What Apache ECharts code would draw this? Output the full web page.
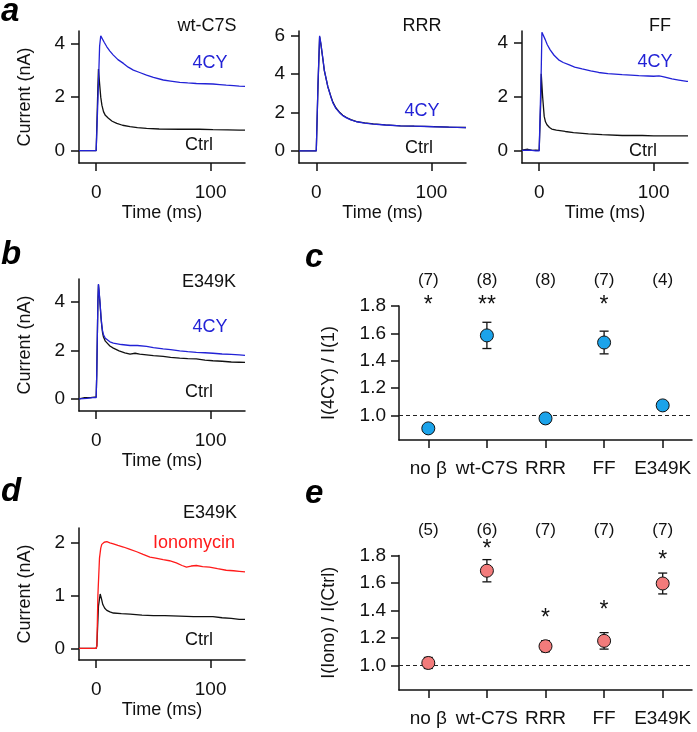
<!DOCTYPE html>
<html>
<head>
<meta charset="utf-8">
<script src="https://cdn.jsdelivr.net/npm/echarts@6/dist/echarts.min.js"></script>
<style>html,body{margin:0;padding:0;background:#fff}#c{width:697px;height:732px}</style>
</head>
<body>
<div id="c"></div>
<script>
// ---------- trace data: [time (ms), current (nA)] ----------
const a1Ctrl = [[-15,0],[0,0],[0.6,0.05],[1.5,2.4],[2,3.05],[3,2.5],[4,2.0],[5,1.7],[6.4,1.46],[8,1.32],[10.7,1.21],[14,1.1],[18,1.02],[23,0.95],[29.6,0.90],[36,0.86],[44,0.83],[55,0.81],[73,0.80],[90,0.80],[102,0.79],[115,0.78],[125,0.77],[130,0.77]];
const a1CY = [[-15,0],[-5,0],[0,0],[0.6,0.05],[2,2.5],[3,3.9],[4,4.29],[5,4.25],[7,4.05],[9.3,3.88],[12,3.72],[15,3.57],[19,3.40],[23.8,3.26],[28,3.12],[32.5,3.01],[38,2.92],[44,2.82],[50,2.74],[58.6,2.64],[65,2.60],[73,2.55],[80,2.53],[87.5,2.51],[95,2.50],[102,2.49],[108,2.47],[113.6,2.45],[120,2.43],[125,2.41],[130,2.40]];
const a2Ctrl = [[-15,0],[0,0],[0.5,0.05],[1.5,3.4],[2.9,5.95],[4,5.55],[5.8,4.75],[7,4.18],[8.7,3.72],[10,3.36],[11.6,3.05],[13,2.78],[14.5,2.53],[17,2.25],[20.4,2.0],[23,1.86],[26.2,1.74],[30,1.63],[35,1.53],[42,1.46],[49.5,1.41],[60,1.36],[73,1.31],[85,1.29],[102,1.27],[115,1.24],[130,1.22]];
const a2CY = [[-15,0],[0,0],[0.5,0.05],[1.5,3.5],[2.9,6.0],[4,5.6],[5.8,4.78],[7,4.2],[8.7,3.73],[10,3.35],[11.6,3.03],[13,2.75],[14.5,2.5],[17,2.22],[20.4,1.98],[23,1.84],[26.2,1.72],[30,1.62],[35,1.52],[42,1.45],[49.5,1.40],[60,1.35],[73,1.31],[85,1.29],[102,1.26],[115,1.24],[130,1.21]];
const a3Ctrl = [[-15,0.03],[-10,0.06],[-6,0.02],[-3,0.03],[0,0.02],[0.9,0.05],[1.5,2.0],[1.8,2.86],[3,2.02],[4.4,1.28],[5.5,1.08],[6.8,0.97],[9,0.87],[11,0.81],[15,0.77],[22.8,0.72],[30,0.68],[43,0.63],[55,0.60],[72.5,0.57],[90,0.57],[100,0.56],[115,0.56],[130,0.56]];
const a3CY = [[-15,0.02],[-8,0.03],[-3,0],[0,0],[0.9,0.05],[1.8,3.0],[2.4,4.4],[3.5,4.3],[5.3,4.13],[7,3.95],[9.6,3.75],[13,3.55],[17,3.38],[21,3.28],[25.8,3.20],[31,3.11],[37.5,3.04],[45,2.97],[52,2.91],[60,2.87],[72.5,2.83],[80,2.81],[87,2.79],[95,2.78],[100,2.77],[104.7,2.785],[108,2.76],[116,2.67],[122,2.63],[129,2.58],[130,2.58]];
const bCtrl = [[-15,0],[-10,0.05],[-5,0.05],[0,0.08],[0.5,1.0],[1.5,4.0],[2,4.7],[2.8,4.25],[3.5,3.85],[4.2,3.35],[4.9,3.0],[5.6,2.72],[6.4,2.55],[8,2.38],[9.3,2.30],[12,2.18],[15,2.09],[20,1.98],[25,1.90],[29.6,1.84],[34,1.88],[38,1.84],[44,1.81],[50,1.78],[58.5,1.75],[65,1.71],[73,1.68],[80,1.66],[87.5,1.65],[95,1.60],[102,1.57],[110,1.55],[118,1.52],[125,1.51],[130,1.50]];
const bCY = [[-15,0],[-8,0.02],[-3,0.05],[0,0.05],[0.5,1.0],[1.5,4.0],[2,4.73],[2.8,4.3],[3.5,3.88],[4.2,3.4],[4.9,3.05],[5.6,2.8],[6.4,2.64],[8,2.5],[9.3,2.43],[12,2.35],[15,2.30],[22,2.24],[29.6,2.20],[36,2.20],[44,2.16],[50,2.11],[58.5,2.06],[65,2.03],[73,1.98],[80,1.95],[87.5,1.92],[95,1.90],[102,1.88],[110,1.85],[118,1.83],[125,1.81],[130,1.79]];
const dCtrl = [[-15,0],[0,0],[0.6,0.05],[2,0.8],[3.5,1.03],[4.5,0.95],[5.8,0.83],[7.5,0.76],[9.3,0.72],[12,0.69],[15,0.67],[22,0.66],[29.6,0.65],[40,0.63],[50,0.62],[60,0.62],[73,0.61],[85,0.60],[95,0.60],[102,0.60],[110,0.58],[118,0.57],[125,0.55],[130,0.55]];
const dIono = [[-15,0],[-5,0],[0,0],[0.6,0.05],[1.5,1.0],[2.9,1.71],[4,1.9],[4.9,1.97],[7,2.01],[9.3,2.02],[12,2.0],[15,1.98],[19,1.95],[23.8,1.92],[29,1.88],[35.4,1.83],[41,1.78],[47,1.73],[52,1.71],[58.5,1.68],[64,1.66],[70,1.62],[75,1.57],[78.9,1.54],[83,1.56],[87.5,1.57],[93,1.55],[99,1.54],[106,1.51],[113.6,1.48],[120,1.47],[125,1.46],[130,1.45]];
const timeTicks = [0, 100];

// ---------- summary data ----------
const categories = ['no \u03b2', 'wt-C7S', 'RRR', 'FF', 'E349K'];
const cMean = [0.905, 1.585, 0.978, 1.533, 1.073];
const cErr = [0.015, 0.096, 0.035, 0.083, 0.015];
const cN = ['(7)', '(8)', '(8)', '(7)', '(4)'];
const cStars = ['*', '**', '', '*', ''];
const cStarY = [1.84, 1.84, null, 1.84, null];
const eMean = [1.017, 1.689, 1.139, 1.178, 1.596];
const eErr = [0.04, 0.081, 0.04, 0.06, 0.076];
const eN = ['(5)', '(6)', '(7)', '(7)', '(7)'];
const eStars = ['', '*', '*', '*', '*'];
const eStarY = [null, 1.878, 1.378, 1.432, 1.80];
const ratioTicks = [1.0, 1.2, 1.4, 1.6, 1.8];
const nLabelY = 2.0;

const FONT = 'Liberation Sans, Arial, sans-serif';
const AX = '#111';
const BLUE = '#2222d6';
const RED = '#ff1a1a';

const grids = [
  {left: 79, top: 31, width: 166, height: 132},
  {left: 299, top: 31, width: 167, height: 132},
  {left: 522, top: 31, width: 166, height: 132},
  {left: 79, top: 279, width: 166, height: 132},
  {left: 79, top: 528, width: 166, height: 132},
  {left: 399, top: 306, width: 293, height: 134},
  {left: 399, top: 555.5, width: 293, height: 134.5}
];

function axisCommon() {
  return {
    axisLine: {show: true, onZero: false, lineStyle: {color: AX, width: 1.5}},
    axisTick: {show: true, inside: false, length: 8, lineStyle: {color: AX, width: 1.5}},
    splitLine: {show: false},
    axisLabel: {color: AX, fontSize: 19, fontFamily: FONT},
    nameTextStyle: {color: AX, fontSize: 18, fontFamily: FONT}
  };
}
function timeAxis(gi) {
  const a = axisCommon();
  return Object.assign(a, {
    type: 'value', gridIndex: gi, min: -15, max: 130,
    name: 'Time (ms)', nameLocation: 'middle', nameGap: 41,
    axisTick: Object.assign(a.axisTick, {customValues: timeTicks}),
    axisLabel: Object.assign(a.axisLabel, {customValues: timeTicks, margin: 20})
  });
}
function currAxis(gi, min, max, ticks, named) {
  const a = axisCommon();
  return Object.assign(a, {
    type: 'value', gridIndex: gi, min: min, max: max,
    name: named ? 'Current (nA)' : '', nameLocation: 'middle', nameGap: 45,
    axisTick: Object.assign(a.axisTick, {customValues: ticks}),
    axisLabel: Object.assign(a.axisLabel, {customValues: ticks, margin: 14})
  });
}
function catAxis(gi) {
  const a = axisCommon();
  return Object.assign(a, {
    type: 'category', gridIndex: gi, data: categories, boundaryGap: true,
    axisTick: Object.assign(a.axisTick, {alignWithLabel: true}),
    axisLabel: Object.assign(a.axisLabel, {margin: 19, interval: 0})
  });
}
function ratioAxis(gi, name) {
  const a = axisCommon();
  return Object.assign(a, {
    type: 'value', gridIndex: gi, min: 0.82, max: 1.8,
    name: name, nameLocation: 'middle', nameGap: 61,
    axisTick: Object.assign(a.axisTick, {customValues: ratioTicks}),
    axisLabel: Object.assign(a.axisLabel, {customValues: ratioTicks, margin: 13, formatter: v => v.toFixed(1)})
  });
}

const xAxes = [timeAxis(0), timeAxis(1), timeAxis(2), timeAxis(3), timeAxis(4), catAxis(5), catAxis(6)];
const yAxes = [
  currAxis(0, -0.46, 4.47, [0, 2, 4], true),
  currAxis(1, -0.63, 6.25, [0, 2, 4, 6], false),
  currAxis(2, -0.45, 4.45, [0, 2, 4], false),
  currAxis(3, -0.5, 4.94, [0, 2, 4], true),
  currAxis(4, -0.22, 2.28, [0, 1, 2], true),
  ratioAxis(5, 'I(4CY) / I(1)'),
  ratioAxis(6, 'I(Iono) / I(Ctrl)')
];

function trace(idx, data, color) {
  return {type: 'line', xAxisIndex: idx, yAxisIndex: idx, data: data, showSymbol: false, symbol: 'none',
    lineStyle: {color: color, width: 1.3}, animation: false, silent: true};
}

function errSeries(idx, mean, err) {
  return {
    type: 'custom', xAxisIndex: idx, yAxisIndex: idx, animation: false, silent: true,
    data: mean.map((m, i) => [i, m - err[i], m + err[i]]),
    encode: {x: 0, y: [1, 2]},
    renderItem: function (params, api) {
      const lo = api.coord([api.value(0), api.value(1)]);
      const hi = api.coord([api.value(0), api.value(2)]);
      const w = 4.5;
      const st = {stroke: '#111', lineWidth: 1.3};
      return {type: 'group', children: [
        {type: 'line', shape: {x1: lo[0], y1: lo[1], x2: hi[0], y2: hi[1]}, style: st},
        {type: 'line', shape: {x1: lo[0] - w, y1: lo[1], x2: lo[0] + w, y2: lo[1]}, style: st},
        {type: 'line', shape: {x1: hi[0] - w, y1: hi[1], x2: hi[0] + w, y2: hi[1]}, style: st}
      ]};
    }
  };
}
function pointSeries(idx, mean, color) {
  return {
    type: 'scatter', xAxisIndex: idx, yAxisIndex: idx, animation: false, silent: true, z: 5,
    data: mean.map((m, i) => [i, m]), symbol: 'circle', symbolSize: 13,
    itemStyle: {color: color, borderColor: '#111', borderWidth: 1, opacity: 1},
    markLine: {silent: true, symbol: 'none', label: {show: false}, animation: false,
      lineStyle: {type: [4, 3], color: '#222', width: 1}, data: [{yAxis: 1.0}]}
  };
}
function textSeries(idx, pts, size, dy, bold) {
  return {
    type: 'scatter', xAxisIndex: idx, yAxisIndex: idx, animation: false, silent: true, clip: false,
    symbol: 'circle', symbolSize: 0, itemStyle: {color: '#111', opacity: 1},
    data: pts,
    label: {show: true, position: 'inside', formatter: p => p.value[2], color: '#111', opacity: 1,
      fontSize: size, fontWeight: bold ? 'bold' : 'normal', fontFamily: FONT, verticalAlign: 'middle', align: 'center', offset: [0, dy]}
  };
}
const cNPts = cN.map((t, i) => [i, nLabelY, t]);
const eNPts = eN.map((t, i) => [i, nLabelY, t]);
const cStarPts = cStars.map((t, i) => [i, cStarY[i], t]).filter(p => p[2]);
const eStarPts = eStars.map((t, i) => [i, eStarY[i], t]).filter(p => p[2]);

const series = [
  trace(0, a1Ctrl, '#111'), trace(0, a1CY, BLUE),
  trace(1, a2Ctrl, '#111'), trace(1, a2CY, BLUE),
  trace(2, a3Ctrl, '#111'), trace(2, a3CY, BLUE),
  trace(3, bCtrl, '#111'), trace(3, bCY, BLUE),
  trace(4, dCtrl, '#111'), trace(4, dIono, RED),
  errSeries(5, cMean, cErr), pointSeries(5, cMean, '#1ba3ea'),
  errSeries(6, eMean, eErr), pointSeries(6, eMean, '#f27b7b'),
  textSeries(5, cNPts, 17, 2, false), textSeries(6, eNPts, 17, 2, false),
  textSeries(5, cStarPts, 23, 5, false), textSeries(6, eStarPts, 23, 5, false)
];

function txt(x, y, s, color, size) {
  return {type: 'text', x: x, y: y, style: {text: s, fill: color || '#111', fontSize: size || 18,
    fontFamily: FONT, textAlign: 'center', textVerticalAlign: 'middle'}};
}
function letter(x, y, s) {
  return {type: 'text', x: x, y: y, style: {text: s, fill: '#000', fontSize: 33, fontWeight: 'bold', fontStyle: 'italic',
    fontFamily: FONT, textAlign: 'left', textVerticalAlign: 'middle'}};
}
const graphics = [
  letter(1, 12, 'a'), letter(1, 255, 'b'), letter(305, 258, 'c'), letter(1, 492, 'd'), letter(305, 494, 'e'),
  txt(207, 26, 'wt-C7S'), txt(210, 63, '4CY', BLUE), txt(199, 145, 'Ctrl'),
  txt(422, 26, 'RRR'), txt(422, 111, '4CY', BLUE), txt(419, 148, 'Ctrl'),
  txt(660, 26, 'FF'), txt(655, 62, '4CY', BLUE), txt(643, 151, 'Ctrl'),
  txt(209, 282, 'E349K'), txt(210, 327, '4CY', BLUE), txt(199, 392, 'Ctrl'),
  txt(210, 513, 'E349K'), txt(194, 543, 'Ionomycin', RED), txt(199, 640, 'Ctrl')
];

const chart = echarts.init(document.getElementById('c'), null, {renderer: 'canvas'});
chart.setOption({
  animation: false,
  backgroundColor: '#fff',
  textStyle: {fontFamily: FONT},
  grid: grids,
  xAxis: xAxes,
  yAxis: yAxes,
  series: series,
  graphic: graphics
});
</script>
</body>
</html>
